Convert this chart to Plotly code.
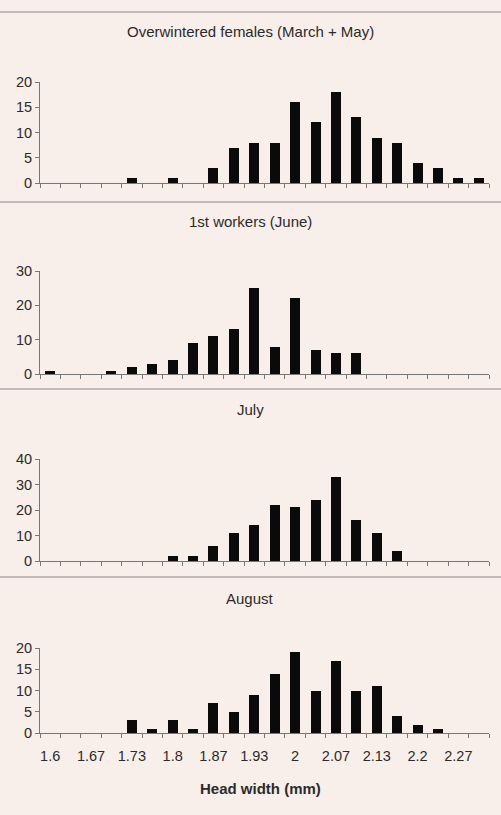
import plotly.graph_objects as go

# Head width bin centres (mm): 1.6 to 2.3 in steps of 1/30
head_width = [1.6 + k / 30 for k in range(22)]

overwintered = [0, 0, 0, 0, 1, 0, 1, 0, 3, 7, 8, 8, 16, 12, 18, 13, 9, 8, 4, 3, 1, 1]
june_workers = [1, 0, 0, 1, 2, 3, 4, 9, 11, 13, 25, 8, 22, 7, 6, 6, 0, 0, 0, 0, 0, 0]
july = [0, 0, 0, 0, 0, 0, 2, 2, 6, 11, 14, 22, 21, 24, 33, 16, 11, 4, 0, 0, 0, 0]
august = [0, 0, 0, 0, 3, 1, 3, 1, 7, 5, 9, 14, 19, 10, 17, 10, 11, 4, 2, 1, 0, 0]

panel_titles = ["Overwintered females (March + May)", "1st workers (June)", "July", "August"]
y_ticks = [[0, 5, 10, 15, 20], [0, 10, 20, 30], [0, 10, 20, 30, 40], [0, 5, 10, 15, 20]]
x_tick_vals = [1.6 + 2 * k / 30 for k in range(11)]
x_tick_text = ["1.6", "1.67", "1.73", "1.8", "1.87", "1.93", "2", "2.07", "2.13", "2.2", "2.27"]
x_title = "Head width (mm)"

series = [overwintered, june_workers, july, august]

W, H = 501, 815
BG = "#f8efea"
FONT = "Liberation Sans, Arial, sans-serif"
TXT = "#2b2b2b"

# pixel positions (top, bottom) of each panel's plot area
panel_px = [(82, 183), (271, 374), (459, 561), (648, 733)]
title_py = [31, 221, 409, 598]
sep_py = [12, 202, 389, 577]
xtitle_py = 788

def py2paper(py):
    return 1 - py / H

fig = go.Figure()
xr = [1.6 - 1 / 60, 2.3 + 1 / 60]

for i, vals in enumerate(series):
    ax = "" if i == 0 else str(i + 1)
    fig.add_trace(go.Bar(
        x=head_width, y=vals, width=0.0163,
        marker=dict(color="#0a0a0a", line=dict(width=0)),
        xaxis="x" + ax, yaxis="y" + ax, showlegend=False,
    ))
    top, bot = panel_px[i]
    last = i == 3
    fig.layout["xaxis" + ax] = dict(
        domain=[0, 1], range=xr, anchor="y" + ax,
        showline=True, linecolor="#777", linewidth=1,
        showgrid=False, zeroline=False, automargin=False,
        tickmode="array", tickvals=x_tick_vals,
        ticktext=x_tick_text if last else [""] * len(x_tick_vals),
        showticklabels=last, ticks="", ticklen=0,
        ticklabelstandoff=10,
        tickfont=dict(family=FONT, size=14.5, color=TXT),
        minor=dict(ticks="outside", tickmode="linear", tick0=1.6 - 1 / 60, dtick=1 / 30,
                   ticklen=4, tickcolor="#777", tickwidth=1, showgrid=False),
        fixedrange=True,
    )
    fig.layout["yaxis" + ax] = dict(
        domain=[py2paper(bot), py2paper(top)], range=[0, max(y_ticks[i])], anchor="x" + ax,
        showline=True, linecolor="#777", linewidth=1,
        showgrid=False, zeroline=False, automargin=False,
        tickmode="array", tickvals=y_ticks[i], ticks="outside", ticklen=4, tickcolor="#777",
        tickfont=dict(family=FONT, size=14.5, color=TXT),
        fixedrange=True,
    )
    fig.add_annotation(
        text=panel_titles[i], xref="paper", yref="paper",
        x=(250 - 40) / 449, y=py2paper(title_py[i]), showarrow=False,
        xanchor="center", yanchor="middle",
        font=dict(family=FONT, size=15, color=TXT),
    )

fig.add_annotation(
    text="<b>" + x_title + "</b>", xref="paper", yref="paper",
    x=(260 - 40) / 449, y=py2paper(xtitle_py), showarrow=False,
    xanchor="center", yanchor="middle",
    font=dict(family=FONT, size=15, color=TXT),
)

for py in sep_py:
    fig.add_shape(type="line", xref="paper", yref="paper",
                  x0=-40 / 449, x1=1 + 12 / 449, y0=py2paper(py), y1=py2paper(py),
                  line=dict(color="#8a8585", width=1.2))

fig.update_layout(
    width=W, height=H,
    margin=dict(l=40, r=12, t=0, b=0, pad=0, autoexpand=False),
    paper_bgcolor=BG, plot_bgcolor=BG,
    bargap=0, showlegend=False,
)

fig.write_html(
    "out.html",
    config={"displayModeBar": False},
    post_script="document.body.style.margin='0';document.body.style.overflow='hidden';",
)
